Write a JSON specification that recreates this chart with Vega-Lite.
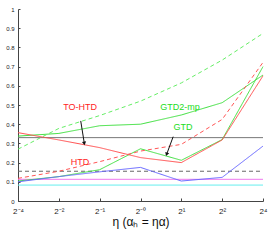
{
  "$schema": "https://vega.github.io/schema/vega-lite/v6.json",
  "width": 245,
  "height": 192,
  "autosize": "none",
  "padding": {"left": 18, "top": 9, "right": 14, "bottom": 51},
  "background": "white",
  "config": {
    "view": {"stroke": null},
    "axis": {"grid": false, "domainColor": "#444", "tickColor": "#444", "labelColor": "#222", "labelFont": "Liberation Sans", "titleFont": "Liberation Sans", "titleColor": "#111", "titleFontWeight": "normal", "labelOverlap": false}
  },
  "resolve": {"scale": {"color": "independent", "strokeDash": "independent"}},
  "datasets": {
    "series": [
      {"s": "GTD2-mp", "i": 0, "v": 0.338}, {"s": "GTD2-mp", "i": 1, "v": 0.352}, {"s": "GTD2-mp", "i": 2, "v": 0.392}, {"s": "GTD2-mp", "i": 3, "v": 0.40}, {"s": "GTD2-mp", "i": 4, "v": 0.448}, {"s": "GTD2-mp", "i": 5, "v": 0.512}, {"s": "GTD2-mp", "i": 6, "v": 0.656},
      {"s": "GTD2-mp dashed", "i": 0, "v": 0.27}, {"s": "GTD2-mp dashed", "i": 1, "v": 0.378}, {"s": "GTD2-mp dashed", "i": 2, "v": 0.445}, {"s": "GTD2-mp dashed", "i": 3, "v": 0.52}, {"s": "GTD2-mp dashed", "i": 4, "v": 0.615}, {"s": "GTD2-mp dashed", "i": 5, "v": 0.734}, {"s": "GTD2-mp dashed", "i": 6, "v": 0.873},
      {"s": "GTD", "i": 0, "v": 0.104}, {"s": "GTD", "i": 1, "v": 0.127}, {"s": "GTD", "i": 2, "v": 0.163}, {"s": "GTD", "i": 3, "v": 0.272}, {"s": "GTD", "i": 4, "v": 0.212}, {"s": "GTD", "i": 5, "v": 0.32}, {"s": "GTD", "i": 6, "v": 0.70},
      {"s": "TO-HTD", "i": 0, "v": 0.356}, {"s": "TO-HTD", "i": 1, "v": 0.318}, {"s": "TO-HTD", "i": 2, "v": 0.278}, {"s": "TO-HTD", "i": 3, "v": 0.226}, {"s": "TO-HTD", "i": 4, "v": 0.20}, {"s": "TO-HTD", "i": 5, "v": 0.318}, {"s": "TO-HTD", "i": 6, "v": 0.652},
      {"s": "HTD", "i": 0, "v": 0.118}, {"s": "HTD", "i": 1, "v": 0.155}, {"s": "HTD", "i": 2, "v": 0.205}, {"s": "HTD", "i": 3, "v": 0.26}, {"s": "HTD", "i": 4, "v": 0.295}, {"s": "HTD", "i": 5, "v": 0.425}, {"s": "HTD", "i": 6, "v": 0.722},
      {"s": "blue", "i": 0, "v": 0.10}, {"s": "blue", "i": 1, "v": 0.127}, {"s": "blue", "i": 2, "v": 0.152}, {"s": "blue", "i": 3, "v": 0.175}, {"s": "blue", "i": 4, "v": 0.104}, {"s": "blue", "i": 5, "v": 0.123}, {"s": "blue", "i": 6, "v": 0.286}
    ],
    "hlines": [
      {"k": "gray", "v": 0.33, "i": 0, "i2": 6},
      {"k": "gray dashed", "v": 0.155, "i": 0, "i2": 6},
      {"k": "magenta", "v": 0.113, "i": 0, "i2": 6},
      {"k": "cyan", "v": 0.083, "i": 0, "i2": 6}
    ],
    "labels": [
      {"t": "TO-HTD", "i": 1.52, "v": 0.49, "c": "red"},
      {"t": "HTD", "i": 1.52, "v": 0.203, "c": "red"},
      {"t": "GTD", "i": 4.04, "v": 0.385, "c": "green"},
      {"t": "GTD2-mp", "i": 3.97, "v": 0.49, "c": "green"}
    ],
    "arrows": [
      {"a": "TO-HTD", "i": 1.536, "v": 0.417, "end": 0, "ang": -9},
      {"a": "TO-HTD", "i": 1.624, "v": 0.30, "end": 1, "ang": -9},
      {"a": "GTD", "i": 3.80, "v": 0.335, "end": 0, "ang": 20},
      {"a": "GTD", "i": 3.64, "v": 0.243, "end": 1, "ang": 20}
    ]
  },
  "encoding": {
    "x": {
      "field": "i", "type": "quantitative",
      "scale": {"domain": [0, 6], "nice": false, "zero": false},
      "axis": {
        "values": [0, 1, 2, 3, 4, 5, 6],
        "labelExpr": "['2⁻⁴','2⁻²','2⁻¹','2⁻⁰','2¹','2²','2⁴'][datum.value]",
        "title": "η (αₕ = ηα)",
        "tickSize": -3,
        "labelPadding": 9,
        "labelFontSize": 8,
        "labelFlush": false,
        "labelOverlap": false,
        "titleFontSize": 12,
        "titlePadding": 1
      }
    },
    "y": {
      "field": "v", "type": "quantitative",
      "scale": {"domain": [0, 1], "nice": false},
      "axis": {
        "values": [0, 0.1, 0.2, 0.3, 0.4, 0.5, 0.6, 0.7, 0.8, 0.9, 1],
        "format": ".1~f",
        "title": null,
        "tickSize": -2,
        "labelPadding": 6,
        "labelFontSize": 6,
        "labelOverlap": false,
        "labelFlush": false
      }
    }
  },
  "layer": [
    {
      "data": {"name": "hlines"},
      "mark": {"type": "rule", "strokeWidth": 1},
      "encoding": {
        "x2": {"field": "i2"},
        "color": {"field": "k", "type": "nominal", "legend": null, "scale": {"domain": ["gray", "gray dashed", "magenta", "cyan"], "range": ["#777777", "#666666", "#ee77ee", "#66eeee"]}},
        "strokeDash": {"field": "k", "type": "nominal", "legend": null, "scale": {"domain": ["gray", "gray dashed", "magenta", "cyan"], "range": [[1, 0], [4, 3], [1, 0], [1, 0]]}}
      }
    },
    {
      "data": {"name": "series"},
      "mark": {"type": "line", "strokeWidth": 1},
      "encoding": {
        "detail": {"field": "s"},
        "color": {"field": "s", "type": "nominal", "legend": null, "scale": {"domain": ["GTD2-mp", "GTD2-mp dashed", "GTD", "TO-HTD", "HTD", "blue"], "range": ["#3fe03f", "#66ee66", "#3fe03f", "#ff4d4d", "#ff5555", "#6666ff"]}},
        "strokeDash": {"field": "s", "type": "nominal", "legend": null, "scale": {"domain": ["GTD2-mp", "GTD2-mp dashed", "GTD", "TO-HTD", "HTD", "blue"], "range": [[1, 0], [4, 3], [1, 0], [1, 0], [4, 3], [1, 0]]}}
      }
    },
    {
      "data": {"name": "arrows"},
      "mark": {"type": "line", "color": "#111", "strokeWidth": 1},
      "encoding": {
        "detail": {"field": "a"},
        "order": {"field": "end"}
      }
    },
    {
      "data": {"name": "arrows"},
      "transform": [{"filter": "datum.end == 1"}],
      "mark": {"type": "point", "shape": "triangle-down", "filled": true, "color": "#111", "size": 18, "opacity": 1},
      "encoding": {
        "angle": {"field": "ang", "type": "quantitative", "scale": null}
      }
    },
    {
      "data": {"name": "labels"},
      "mark": {"type": "text", "font": "Liberation Sans", "fontSize": 9, "align": "center", "baseline": "middle"},
      "encoding": {
        "text": {"field": "t"},
        "color": {"field": "c", "type": "nominal", "legend": null, "scale": {"domain": ["red", "green"], "range": ["#ff2222", "#22dd22"]}}
      }
    }
  ]
}
